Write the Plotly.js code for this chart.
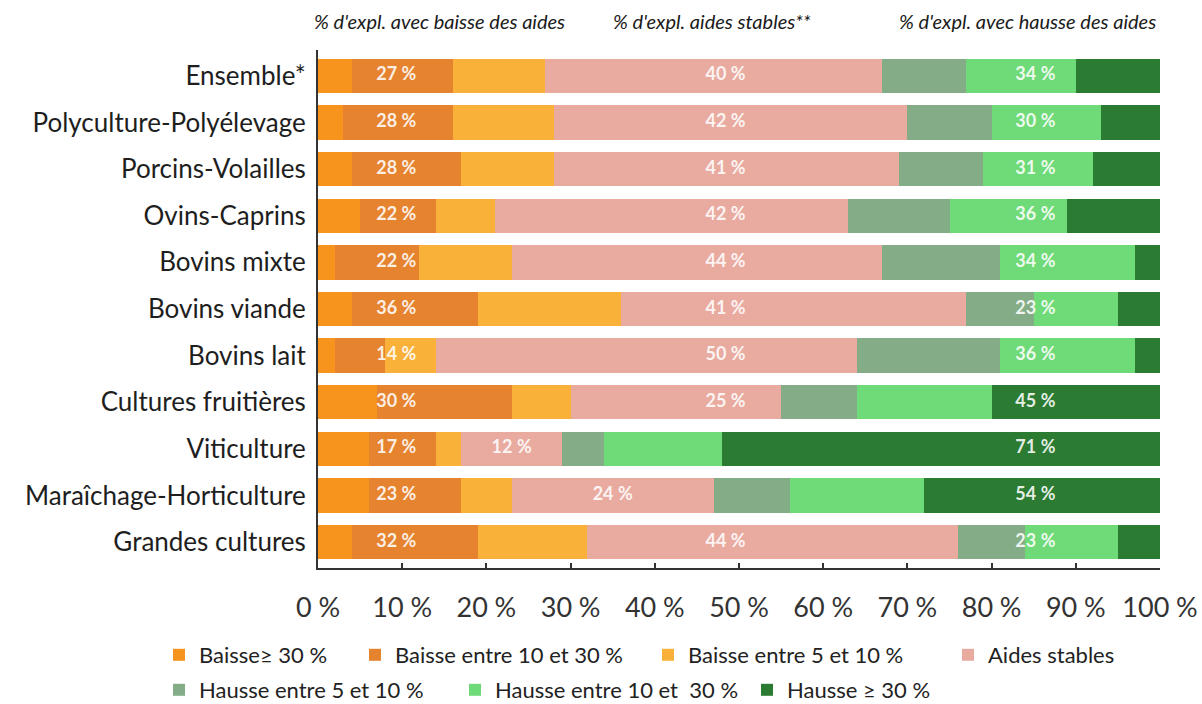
<!DOCTYPE html>
<html>
<head>
<meta charset="utf-8">
<script src="https://cdn.plot.ly/plotly-3.0.1.min.js"></script>
<style>
html,body{margin:0;padding:0;background:#fff;}
#chart{width:1202px;height:704px;}
</style>
</head>
<body>
<div id="chart"></div>
<script>
// ---------- data ----------
const categories = ["Ensemble*","Polyculture-Polyélevage","Porcins-Volailles","Ovins-Caprins","Bovins mixte","Bovins viande","Bovins lait","Cultures fruitières","Viticulture","Maraîchage-Horticulture","Grandes cultures"];
const baisse30   = [4, 3, 4, 5, 2, 4, 2, 7, 6, 6, 4];
const baisse10   = [12,13,13,9,10,15,6,16,8,11,15];
const baisse5    = [11,12,11,7,11,17,6,7,3,6,13];
const stables    = [40,42,41,42,44,41,50,25,12,24,44];
const hausse5    = [10,10,10,12,14,8,17,9,5,9,8];
const hausse10   = [13,13,13,14,16,10,16,16,14,16,11];
const hausse30   = [10,7,8,11,3,5,3,20,52,28,5];
const baisseLabels = [27,28,28,22,22,36,14,30,17,23,32];
const stableLabels = [40,42,41,42,44,41,50,25,12,24,44];
const hausseLabels = [34,30,31,36,34,23,36,45,71,54,23];
const seriesNames = ["Baisse≥ 30 %","Baisse entre 10 et 30 %","Baisse entre 5 et 10 %","Aides stables","Hausse entre 5 et 10 %","Hausse entre 10 et  30 %","Hausse ≥ 30 %"];
const xTickVals = [0,10,20,30,40,50,60,70,80,90,100];
const headers = ["% d'expl. avec baisse des aides","% d'expl. aides stables**","% d'expl. avec hausse des aides"];

// ---------- styles ----------
const colors = ["#F7941E","#E6832F","#F9B13A","#E9ABA0","#84AD87","#6FDA78","#2B7B32"];
const FONT = "Lato, 'Open Sans', sans-serif";
const L = 318, R = 1160, T = 50, B = 568, W = 1202, H = 704;
const px2x = p => (p - L) / (R - L);
const px2y = p => (B - p) / (B - T);

const series = [baisse30, baisse10, baisse5, stables, hausse5, hausse10, hausse30];
const legendPos = [[199,655],[395,655],[688,655],[988,655],[199,690],[495,690],[787,690]];

const traces = series.map((vals, i) => ({
  type: 'bar', orientation: 'h',
  x: vals, y: categories,
  name: seriesNames[i],
  marker: {color: colors[i], line: {width: 0}},
  hoverinfo: 'x+name',
  legend: i === 0 ? 'legend' : 'legend' + (i + 1),
  showlegend: true
}));

// label positions
const nbsp = "\u202F";
const baisseX = categories.map(() => 9.3);
const hausseX = categories.map(() => 85.2);
const stableX = categories.map((c, k) => {
  const start = baisse30[k] + baisse10[k] + baisse5[k];
  const end = start + stables[k];
  return end > 52 ? 48.4 : (start + end) / 2;
});
const lblFont = {family: FONT, size: 18, color: 'rgba(255,255,255,0.88)', weight: 700};
[[baisseX, baisseLabels],[stableX, stableLabels],[hausseX, hausseLabels]].forEach(([xs, lbls]) => {
  traces.push({
    type: 'scatter', mode: 'text',
    x: xs, y: categories,
    text: lbls.map(v => '<b>' + v + nbsp + '%</b>'),
    textposition: 'middle center',
    textfont: lblFont,
    hoverinfo: 'skip', showlegend: false
  });
});

const hdrFont = {family: FONT, size: 20, color: '#1a1a1a'};
const layout = {
  width: W, height: H,
  margin: {l: L, r: W - R, t: T, b: H - B, pad: 0, autoexpand: false},
  paper_bgcolor: '#fff', plot_bgcolor: '#fff',
  barmode: 'stack', bargap: 0.26,
  font: {family: FONT, color: '#222'},
  xaxis: {
    range: [0, 100], fixedrange: true, automargin: false,
    tickvals: xTickVals,
    ticktext: xTickVals.map(v => v + nbsp + '%'),
    ticks: 'inside', ticklen: 5, tickwidth: 1.5, tickcolor: '#333',
    showline: true, linecolor: '#333', linewidth: 2,
    showgrid: false, zeroline: false,
    tickfont: {family: FONT, size: 27, color: '#333'},
    ticklabelstandoff: 15
  },
  yaxis: {
    type: 'category', categoryorder: 'array', categoryarray: categories,
    autorange: 'reversed', fixedrange: true, automargin: false,
    showline: true, linecolor: '#333', linewidth: 2,
    showgrid: false, zeroline: false, ticks: '',
    tickfont: {family: FONT, size: 26, color: '#1e1e1e'},
    ticklabelstandoff: 5
  },
  annotations: [
    {text: '<i>' + headers[0] + '</i>', xref: 'paper', yref: 'paper', x: px2x(312), y: px2y(21), xanchor: 'left', yanchor: 'middle', showarrow: false, font: hdrFont},
    {text: '<i>' + headers[1] + '</i>', xref: 'paper', yref: 'paper', x: px2x(611), y: px2y(21), xanchor: 'left', yanchor: 'middle', showarrow: false, font: hdrFont},
    {text: '<i>' + headers[2] + '</i>', xref: 'paper', yref: 'paper', x: px2x(1158), y: px2y(21), xanchor: 'right', yanchor: 'middle', showarrow: false, font: hdrFont}
  ],
  hovermode: 'closest'
};
legendPos.forEach((p, i) => {
  const key = i === 0 ? 'legend' : 'legend' + (i + 1);
  layout[key] = {
    xref: 'container', yref: 'container',
    x: (p[0] - 40) / W, y: 1 - p[1] / H, xanchor: 'left', yanchor: 'middle',
    orientation: 'h', bgcolor: 'rgba(0,0,0,0)', borderwidth: 0,
    font: {family: FONT, size: 22, color: '#222'},
    itemclick: false, itemdoubleclick: false
  };
});

Plotly.newPlot('chart', traces, layout, {displayModeBar: false, responsive: false});
</script>
</body>
</html>
